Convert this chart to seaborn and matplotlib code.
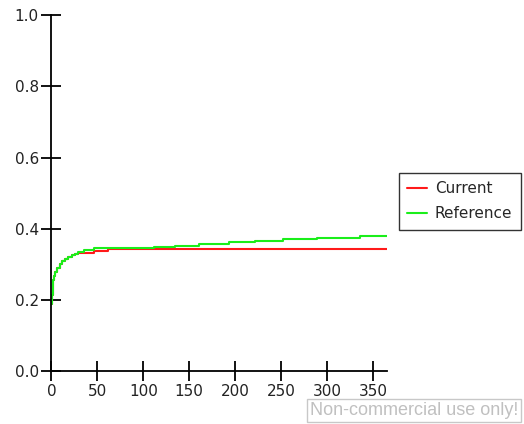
import matplotlib
matplotlib.use("Agg")
import matplotlib.pyplot as plt
import seaborn as sns

# step curves
days_current = [0, 1, 1.5, 2, 3, 4, 6, 9, 12, 15, 18, 22, 26, 29, 46, 62, 102, 365]
current = [0.19, 0.215, 0.24, 0.255, 0.268, 0.279, 0.29, 0.302, 0.31, 0.315,
           0.32, 0.326, 0.33, 0.331, 0.338, 0.342, 0.344, 0.344]

days_reference = [0, 1, 1.5, 2, 3, 4, 6, 9, 12, 15, 18, 22, 26, 29, 36, 46,
                  112, 135, 161, 193, 222, 252, 289, 336, 365]
reference = [0.19, 0.215, 0.24, 0.255, 0.268, 0.279, 0.29, 0.302, 0.31, 0.315,
             0.32, 0.326, 0.33, 0.335, 0.341, 0.345, 0.349, 0.353, 0.358,
             0.362, 0.3655, 0.371, 0.375, 0.38, 0.38]

x_ticks = [0, 50, 100, 150, 200, 250, 300, 350]
y_ticks = [0.0, 0.2, 0.4, 0.6, 0.8, 1.0]

sns.set_style("white")
plt.rcParams["font.family"] = ["DejaVu Sans"]

fig = plt.figure(figsize=(5.24, 4.24), dpi=100)
ax = fig.add_axes([51.4 / 524, 1 - 371.3 / 424, (386.7 - 51.4) / 524, (371.3 - 15) / 424])

sns.lineplot(x=days_current, y=current, ax=ax, color="#ff1a1a", lw=1.5,
             drawstyle="steps-post", estimator=None, label="Current")
sns.lineplot(x=days_reference, y=reference, ax=ax, color="#1aee1a", lw=1.5,
             drawstyle="steps-post", estimator=None, label="Reference")

ax.set_xlim(0, 365)
ax.set_ylim(0, 1.0)
ax.set_xticks(x_ticks)
ax.set_yticks(y_ticks)
ax.set_yticklabels([f"{v:.1f}" for v in y_ticks])
ax.set_xlabel("")
ax.set_ylabel("")
for s in ["top", "right"]:
    ax.spines[s].set_visible(False)
for s in ["left", "bottom"]:
    ax.spines[s].set_color("black")
    ax.spines[s].set_linewidth(1.3)
ax.tick_params(bottom=True, left=True, direction="inout", length=14, width=1.3,
               color="black", labelsize=11, labelcolor="#222222", pad=2)

leg = ax.legend(loc="upper left", bbox_to_anchor=(399 / 524, 1 - 173 / 424),
                bbox_transform=fig.transFigure, borderaxespad=0, fancybox=False,
                frameon=True, fontsize=11, handlelength=1.3, handletextpad=0.5,
                borderpad=0.55, labelspacing=0.65)
leg.get_frame().set_edgecolor("black")
leg.get_frame().set_linewidth(1.0)

fig.text(310 / 524, 1 - 402 / 424, "Non-commercial use only!", ha="left", va="top",
         fontsize=13, color="#c0c0c0", family="Liberation Sans",
         bbox=dict(boxstyle="square,pad=0.15", fc="white", ec="#c8c8c8", lw=1))

fig.savefig("out.png", dpi=100)
